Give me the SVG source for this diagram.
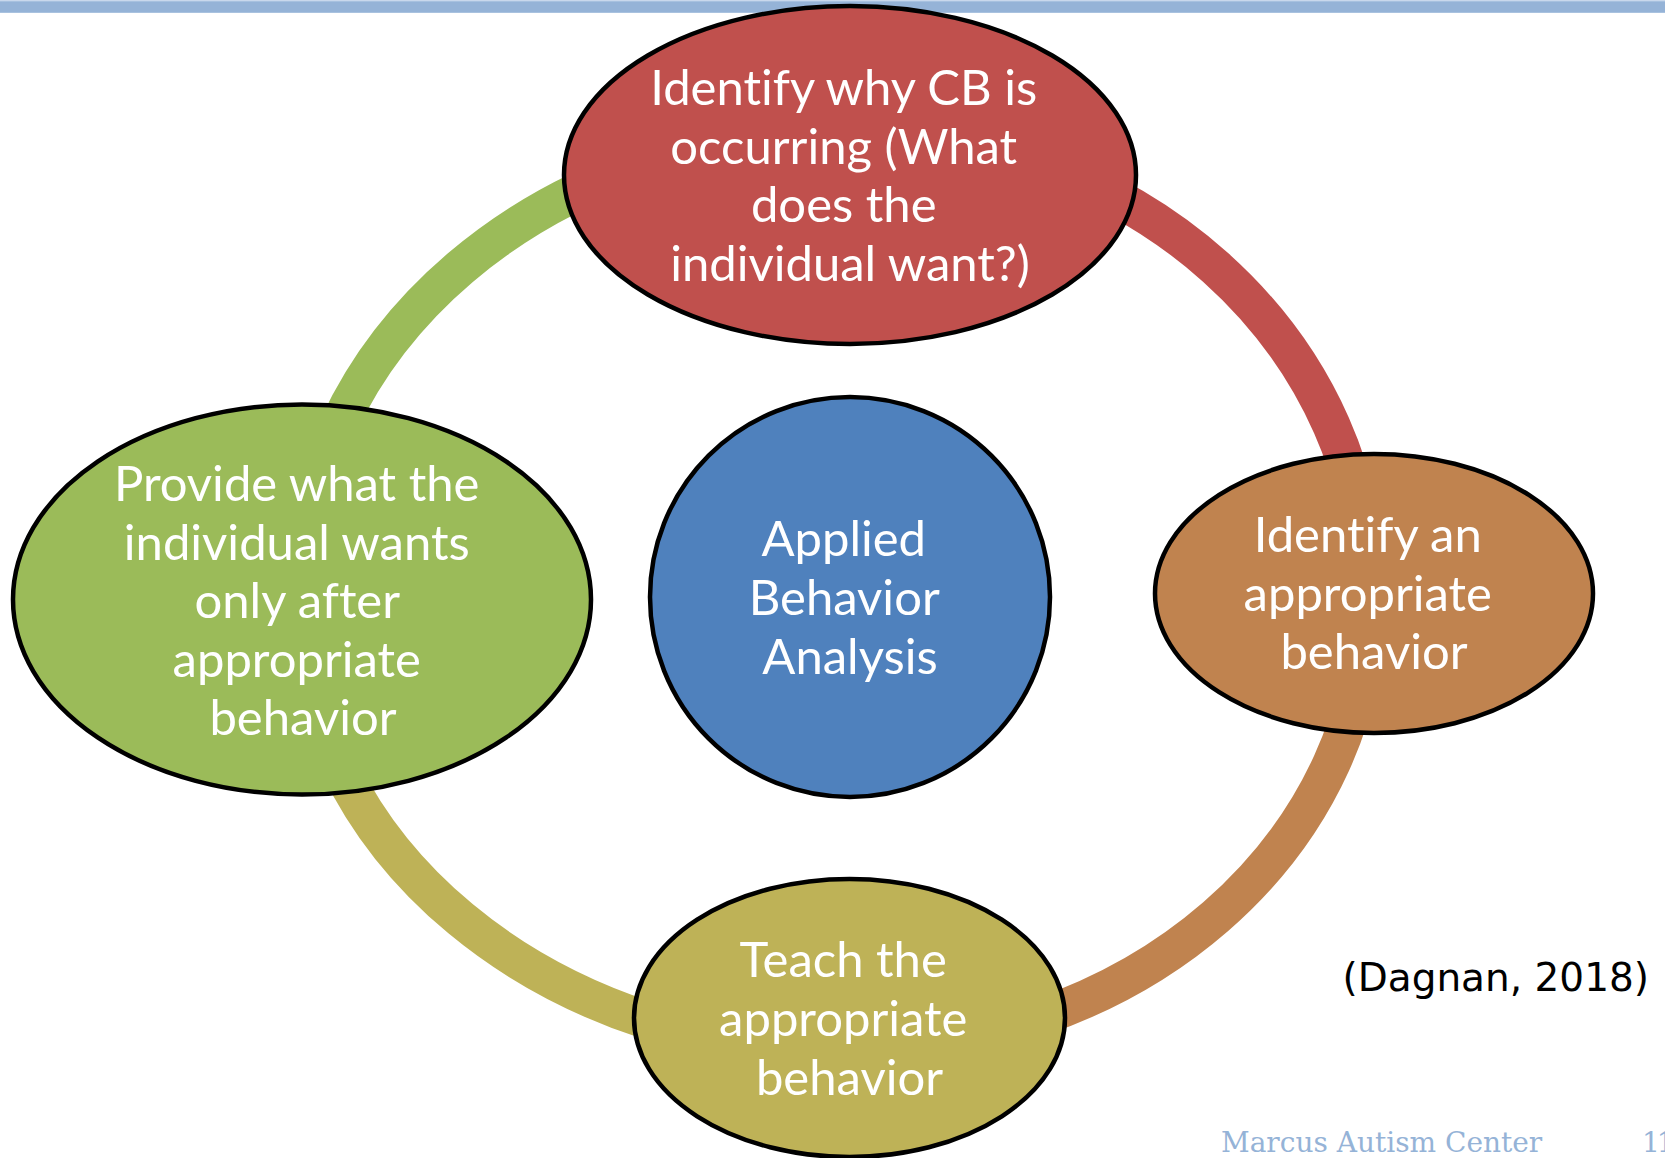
<svg xmlns="http://www.w3.org/2000/svg" width="1665" height="1158" viewBox="0 0 1665 1158">
  <style>
    .node { stroke: #000; stroke-width: 4.5; }
    .label { font-family: Lato, "Open Sans", sans-serif; font-size: 49px; fill: #fff; text-anchor: middle; font-variant-ligatures: none; font-feature-settings: "liga" 0, "clig" 0; }
    .ring { fill: none; stroke-width: 38; stroke-linecap: butt; }
    .footer { font-family: "DejaVu Serif", serif; font-size: 28px; fill: #95b3d7; }
  </style>
  <rect width="1665" height="1158" fill="#fff"/>
  <!-- header rule -->
  <rect x="0" y="0" width="1665" height="1.2" fill="#c9d8ec"/>
  <rect x="0" y="1.2" width="1665" height="11.6" fill="#95b3d7"/>

  <!-- cycle arcs -->
  <g id="connectors">
    <path class="ring" stroke="#c0504d" d="M 848,131 A 520,466 0 0 1 1368,597"/>
    <path class="ring" stroke="#c0834f" d="M 1368,597 A 520,452 0 0 1 848,1049"/>
    <path class="ring" stroke="#beb257" d="M 848,1052 A 548,455 0 0 1 300,597"/>
    <path class="ring" stroke="#9bbb59" d="M 300,597 A 548,466 0 0 1 848,131"/>
  </g>

  <g id="node-identify-why">
    <ellipse class="node" cx="850" cy="175" rx="286" ry="169" fill="#c0504d"/>
    <text class="label">
      <tspan x="850" y="105">Identify why CB is</tspan>
      <tspan x="850" y="163.5">occurring (What</tspan>
      <tspan x="850" y="222">does the</tspan>
      <tspan x="850" y="280.5">individual want?)</tspan>
    </text>
  </g>

  <g id="node-aba">
    <circle class="node" cx="850" cy="597" r="200" fill="#4f81bd"/>
    <text class="label">
      <tspan x="850" y="556">Applied</tspan>
      <tspan x="850" y="615">Behavior</tspan>
      <tspan x="850" y="674">Analysis</tspan>
    </text>
  </g>

  <g id="node-identify-appropriate">
    <ellipse class="node" cx="1374" cy="593.5" rx="219" ry="139.5" fill="#c0834f"/>
    <text class="label">
      <tspan x="1374" y="552">Identify an</tspan>
      <tspan x="1374" y="610.5">appropriate</tspan>
      <tspan x="1374" y="669">behavior</tspan>
    </text>
  </g>

  <g id="node-teach">
    <ellipse class="node" cx="849.5" cy="1018" rx="215.5" ry="139" fill="#beb257"/>
    <text class="label">
      <tspan x="849.5" y="977">Teach the</tspan>
      <tspan x="849.5" y="1036">appropriate</tspan>
      <tspan x="849.5" y="1095">behavior</tspan>
    </text>
  </g>

  <g id="node-provide">
    <ellipse class="node" cx="302" cy="599.5" rx="289" ry="195" fill="#9bbb59"/>
    <text class="label">
      <tspan x="303" y="501">Provide what the</tspan>
      <tspan x="303" y="559.5">individual wants</tspan>
      <tspan x="303" y="618">only after</tspan>
      <tspan x="303" y="676.5">appropriate</tspan>
      <tspan x="303" y="735">behavior</tspan>
    </text>
  </g>

  <!-- citation and footer -->
  <text x="1649" y="991" font-family="'DejaVu Sans', sans-serif" font-size="39" fill="#000" text-anchor="end">(Dagnan, 2018)</text>
  <text class="footer" x="1221" y="1152">Marcus Autism Center</text>
  <text class="footer" x="1642" y="1152" letter-spacing="-3">11</text>
</svg>
